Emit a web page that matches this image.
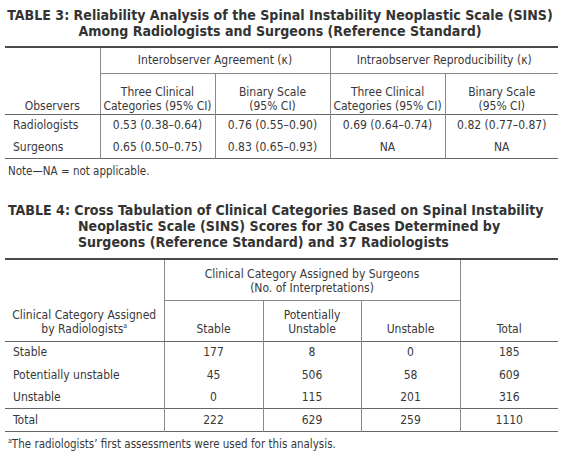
<!DOCTYPE html>
<html>
<head>
<meta charset="utf-8">
<script src="https://cdn.jsdelivr.net/npm/chart.js@4.4.0/dist/chart.umd.min.js"></script>
<style>
  html, body { margin: 0; padding: 0; background: #fff; }
  body { width: 572px; height: 452px; position: relative; overflow: hidden; color: #383838;
         font-family: "Liberation Sans Narrow", "DejaVu Sans Condensed", sans-serif; font-size: 12px; }
  .tl { position: absolute; font-weight: bold; line-height: 16px; color: #333; white-space: nowrap; }
  table { position: absolute; left: 5px; border-collapse: collapse; table-layout: fixed; }
  td { padding: 0; text-align: center; vertical-align: middle; line-height: 14px; }
  td.l { text-align: left; padding-left: 8px; }
  td.b { vertical-align: bottom; padding-bottom: 5px; }
  .note { position: absolute; left: 8px; font-size: 11.5px; }
  sup { font-size: 7px; vertical-align: 5px; line-height: 0; }
  #probe { position: absolute; left: -2000px; top: 0; font-weight: bold; font-size: 20px;
           line-height: normal; white-space: nowrap; }
</style>
</head>
<body>
<div class="tl" id="t3title" style="left:7px; top:7px; width:546px; text-align:center;"></div>
<table id="t3" style="top:46px; width:553px;"></table>
<div class="note" id="t3note" style="top:164px;"></div>

<div class="tl" id="t4title" style="left:8px; top:202px; padding-left:70px; text-indent:-70px;"></div>
<table id="t4" style="top:258px; width:553px;"></table>
<div class="note" id="t4note" style="top:437px;"></div>
<span id="probe"></span>

<script>
document.addEventListener('DOMContentLoaded', function() {
    // Table 3 data
    const t3Observers = ['Radiologists', 'Surgeons'];
    const t3Groups = ['Interobserver Agreement (κ)', 'Intraobserver Reproducibility (κ)'];
    const t3SubHeads = ['Three Clinical<br>Categories (95% CI)', 'Binary Scale<br>(95% CI)'];
    const interThree = ['0.53 (0.38–0.64)', '0.65 (0.50–0.75)'];
    const interBinary = ['0.76 (0.55–0.90)', '0.83 (0.65–0.93)'];
    const intraThree = ['0.69 (0.64–0.74)', 'NA'];
    const intraBinary = ['0.82 (0.77–0.87)', 'NA'];

    // Table 4 data
    const t4Categories = ['Stable', 'Potentially unstable', 'Unstable'];
    const t4SurgeonHeads = ['Stable', 'Potentially<br>Unstable', 'Unstable'];
    const t4Stable = [177, 45, 0];
    const t4Potential = [8, 506, 115];
    const t4Unstable = [0, 58, 201];
    const t4RowTotals = [185, 609, 316];
    const t4ColTotals = [222, 629, 259];
    const t4Grand = 1110;

    const thick = '2px solid #4a4a4a';
    const mid = '1.5px solid #666';
    const thin = '1px solid #8a8a8a';

    // titles: bold face sized so the first line spans the table width,
    // picking a face whose line box still fits the 16px leading
    const t3Lines = ['TABLE 3: Reliability Analysis of the Spinal Instability Neoplastic Scale (SINS)',
        'Among Radiologists and Surgeons (Reference Standard)'];
    const t4Lines = ['TABLE 4: Cross Tabulation of Clinical Categories Based on Spinal Instability',
        'Neoplastic Scale (SINS) Scores for 30 Cases Determined by',
        'Surgeons (Reference Standard) and 37 Radiologists'];
    const probe = document.getElementById('probe');
    probe.textContent = t3Lines[0];
    const faces = ['"Open Sans"', '"Liberation Sans"', '"DejaVu Sans Condensed"'];
    let face = faces[faces.length - 1], size = 13;
    for (const f of faces) {
        probe.style.fontFamily = f;
        const r = probe.getBoundingClientRect();
        const s = 20 * 546 / r.width;
        face = f; size = s;
        if (r.height * s / 20 <= 16) break;
    }
    probe.remove();
    [['t3title', t3Lines], ['t4title', t4Lines]].forEach(([id, lines]) => {
        const el = document.getElementById(id);
        el.innerHTML = lines.join('<br>');
        el.style.fontFamily = face;
        el.style.fontSize = size + 'px';
    });

    const w3 = [95, 115, 115, 115, 113];
    let h = '<colgroup>' + w3.map(w => `<col style="width:${w}px">`).join('') + '</colgroup>';
    h += `<tr style="height:26px;border-top:${thick}">
        <td rowspan="2" class="b" style="padding-bottom:1px;border-right:${thin};border-bottom:${mid}">Observers</td>
        <td colspan="2" style="border-right:${thin};border-bottom:${thin}">${t3Groups[0]}</td>
        <td colspan="2" style="border-bottom:${thin}">${t3Groups[1]}</td></tr>`;
    h += `<tr style="height:41px;border-bottom:${mid}">` +
        [0, 1, 0, 1].map((k, i) => `<td class="b" style="padding-bottom:1px;${i < 3 ? 'border-right:' + thin : ''}">${t3SubHeads[k]}</td>`).join('') + '</tr>';
    t3Observers.forEach((o, r) => {
        const last = r === t3Observers.length - 1;
        h += `<tr style="height:22px;${last ? 'border-bottom:' + mid : ''}">
            <td class="l" style="border-right:${thin}">${o}</td>` +
            [interThree[r], interBinary[r], intraThree[r], intraBinary[r]].map((v, i) =>
                `<td style="${i < 3 ? 'border-right:' + thin : ''}">${v}</td>`).join('') + '</tr>';
    });
    document.getElementById('t3').innerHTML = h;
    document.getElementById('t3note').innerHTML = 'Note—NA = not applicable.';

    const w4 = [159, 99, 98, 99, 98];
    let g = '<colgroup>' + w4.map(w => `<col style="width:${w}px">`).join('') + '</colgroup>';
    g += `<tr style="height:41px;border-top:${thick}">
        <td rowspan="2" class="b" style="border-right:${thin};border-bottom:${mid}">Clinical Category Assigned<br>by Radiologists<sup>a</sup></td>
        <td colspan="3" style="border-right:${thin};border-bottom:${thin};padding-top:2px">Clinical Category Assigned by Surgeons<br>(No. of Interpretations)</td>
        <td rowspan="2" class="b" style="border-bottom:${mid}">Total</td></tr>`;
    g += `<tr style="height:41px;border-bottom:${mid}">` +
        t4SurgeonHeads.map(s => `<td class="b" style="border-right:${thin}">${s}</td>`).join('') + '</tr>';
    t4Categories.forEach((c, r) => {
        g += `<tr style="height:${r === 1 ? 23 : 22}px;${r === 2 ? 'border-bottom:' + mid : ''}">
            <td class="l" style="border-right:${thin}">${c}</td>` +
            [t4Stable[r], t4Potential[r], t4Unstable[r], t4RowTotals[r]].map((v, i) =>
                `<td style="${i < 3 ? 'border-right:' + thin : ''}">${v}</td>`).join('') + '</tr>';
    });
    g += `<tr style="height:23px;border-bottom:${mid}">
        <td class="l" style="border-right:${thin}">Total</td>` +
        [...t4ColTotals, t4Grand].map((v, i) =>
            `<td style="${i < 3 ? 'border-right:' + thin : ''}">${v}</td>`).join('') + '</tr>';
    document.getElementById('t4').innerHTML = g;
    document.getElementById('t4note').innerHTML = '<sup>a</sup>The radiologists’ first assessments were used for this analysis.';
});
</script>
</body>
</html>
